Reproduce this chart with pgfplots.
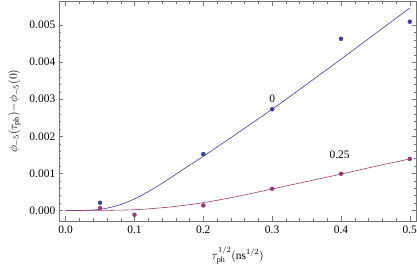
\documentclass[border=0pt]{standalone}
\usepackage{fontspec}
\setmainfont{Liberation Serif}
\usepackage{pgfplots}
\pgfplotsset{compat=1.18}
\usetikzlibrary{calc}
\definecolor{mblue}{rgb}{0.24,0.24,0.6}
\definecolor{mred}{rgb}{0.6,0.24,0.442}
\begin{document}
\begin{tikzpicture}[font=\fontsize{11.5}{13}\selectfont]
\begin{axis}[
 scale only axis, width=358.2bp, height=219.3bp,
 xmin=-0.01, xmax=0.51, ymin=-0.00028, ymax=0.00563,
 xtick={0,0.1,0.2,0.3,0.4,0.5},
 ytick={0,0.001,0.002,0.003,0.004,0.005},
 minor x tick num=4, minor y tick num=4,
 scaled y ticks=false, scaled x ticks=false,
 xticklabel style={/pgf/number format/fixed, /pgf/number format/fixed zerofill, /pgf/number format/precision=1, yshift=-2bp},
 yticklabel style={/pgf/number format/fixed, /pgf/number format/fixed zerofill, /pgf/number format/precision=3},
 /pgf/number format/assume math mode=true,
 tick label style={font=\fontsize{11.5}{13}\selectfont},
 label style={font=\fontsize{11.5}{13}\selectfont},
 tick align=inside,
 major tick length=4.5bp, minor tick length=2.5bp,
 axis line style={black!55, line width=0.5pt},
 every tick/.style={black!55, line width=0.4pt},
 xlabel={$\tau_{\mathrm{ph}}^{1/2}(\mathrm{ns}^{1/2})$},
 ylabel={$\phi_{-5}(\tau_{\mathrm{ph}}){-}\phi_{-5}(0)$},
 xlabel style={yshift=-6bp},
 ylabel style={yshift=2bp},
 clip=false,
]
\coordinate (sw) at (rel axis cs:0,0);
\coordinate (ne) at (rel axis cs:1,1);
\addplot[mblue, line width=0.6pt, smooth, no marks] coordinates {
(0,0) (0.025,0) (0.05,0.00003) (0.075,0.00013) (0.1,0.00031) (0.125,0.00056)
(0.15,0.00085) (0.175,0.00116) (0.2,0.00146) (0.25,0.00209) (0.3,0.00273)
(0.35,0.00340) (0.4,0.00408) (0.45,0.00477) (0.5,0.00546)};
\addplot[mred, line width=0.6pt, smooth, no marks] coordinates {
(0,0) (0.05,0.000003) (0.1,0.00002) (0.15,0.00009) (0.2,0.00021) (0.25,0.00038)
(0.3,0.00058) (0.35,0.00078) (0.4,0.00098) (0.45,0.00119) (0.5,0.00139)};
\addplot[mblue, only marks, mark=*, mark size=2pt, mark options={fill=mblue, draw=mblue}] coordinates {
(0.05,0.000208) (0.2,0.00152) (0.3,0.00273) (0.4,0.00463) (0.5,0.00509)};
\addplot[mred, only marks, mark=*, mark size=2pt, mark options={fill=mred, draw=mred}] coordinates {
(0.05,0.000065) (0.1,-0.000116) (0.2,0.000135) (0.3,0.000585) (0.4,0.00099) (0.5,0.00139)};
\node at (axis cs:0.3,0.0030) {0};
\node at (axis cs:0.398,0.0015) {0.25};
\end{axis}
\pgfresetboundingbox
\path[use as bounding box] ($(sw)+(-58.8bp,-50bp)$) rectangle ($(ne)+(0.3bp,1.7bp)$);
\end{tikzpicture}
\end{document}
